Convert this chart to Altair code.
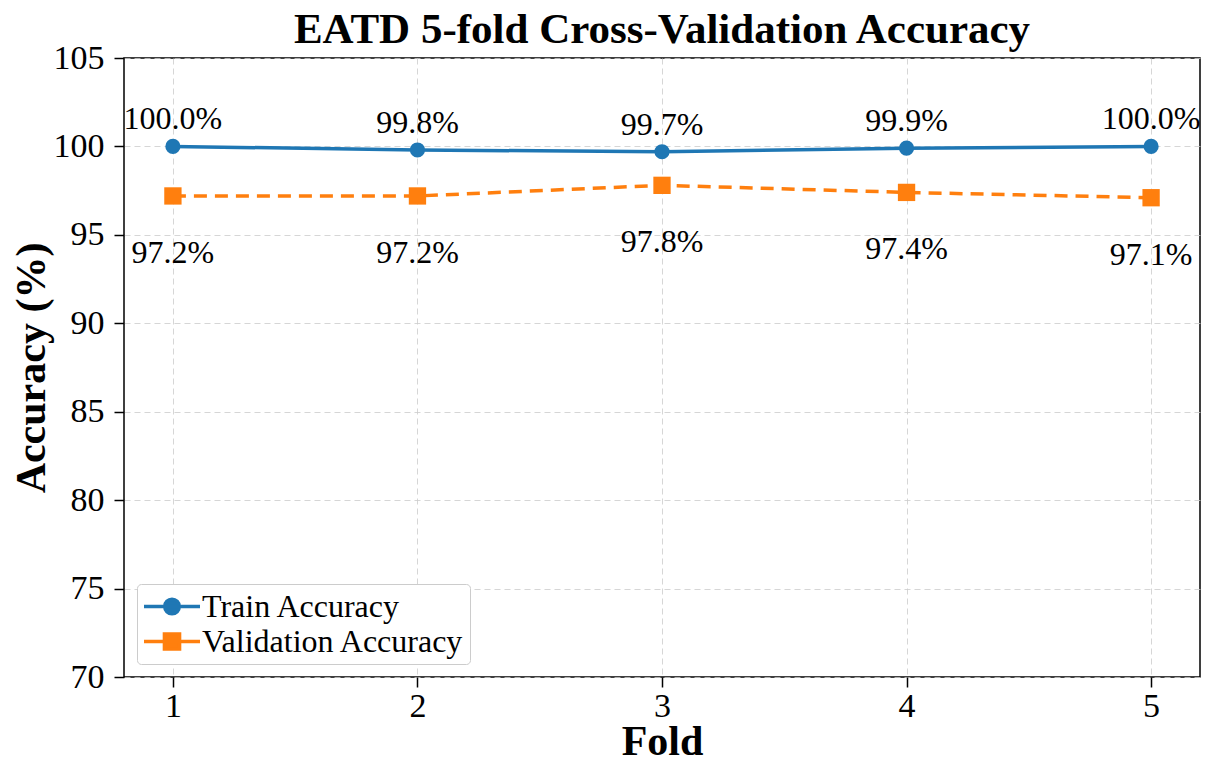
import altair as alt
import pandas as pd

folds = [1, 2, 3, 4, 5]
train_acc = [100.0, 99.8, 99.7, 99.9, 100.0]
val_acc = [97.2, 97.2, 97.8, 97.4, 97.1]
train_labels = ["100.0%", "99.8%", "99.7%", "99.9%", "100.0%"]
val_labels = ["97.2%", "97.2%", "97.8%", "97.4%", "97.1%"]
series_names = ["Train Accuracy", "Validation Accuracy"]
series_colors = ["#1f77b4", "#ff7f0e"]
y_ticks = [70, 75, 80, 85, 90, 95, 100, 105]

rows = []
for f, a, l in zip(folds, train_acc, train_labels):
    rows.append({"fold": f, "acc": a, "series": series_names[0], "label": l})
for f, a, l in zip(folds, val_acc, val_labels):
    rows.append({"fold": f, "acc": a, "series": series_names[1], "label": l})
df = pd.DataFrame(rows)

FONT = "Liberation Serif"

color_scale = alt.Scale(domain=series_names, range=series_colors)
x_enc = alt.X("fold:Q", scale=alt.Scale(domain=[0.8, 5.2], nice=False),
              axis=alt.Axis(values=folds, format="d", title="Fold"))
y_enc = alt.Y("acc:Q", scale=alt.Scale(domain=[70, 105], nice=False),
              axis=alt.Axis(values=y_ticks, title="Accuracy (%)"))

base = alt.Chart(df).encode(x=x_enc, y=y_enc)
is_train = alt.datum.series == series_names[0]
is_val = alt.datum.series == series_names[1]

train_line = base.mark_line(strokeWidth=3.5, color=series_colors[0]).transform_filter(is_train)
val_line = base.mark_line(strokeWidth=3.5, color=series_colors[1], strokeDash=[13, 8]).transform_filter(is_val)

train_pts = base.mark_point(filled=True, shape="circle", size=230, opacity=1,
                            color=series_colors[0]).transform_filter(is_train)
val_pts = base.mark_point(filled=True, shape="square", size=300, opacity=1,
                          color=series_colors[1]).transform_filter(is_val)

train_txt = base.mark_text(font=FONT, fontSize=32, baseline="alphabetic", dy=-17, color="black").encode(
    text="label:N"
).transform_filter(is_train)

val_txt = base.mark_text(font=FONT, fontSize=32, baseline="top", dy=42, color="black").encode(
    text="label:N"
).transform_filter(is_val)

circle_path = "M-1,0H1M0.26,0A0.26,0.26,0,1,1,-0.26,0A0.26,0.26,0,1,1,0.26,0Z"
square_path = "M-1,0H1M-0.27,-0.27H0.27V0.27H-0.27Z"

legend_layer = base.mark_point(filled=True, strokeWidth=3.5, opacity=1).encode(
    color=alt.Color("series:N", scale=color_scale, title=None,
                    legend=alt.Legend(orient="bottom-left", offset=13)),
    stroke=alt.Stroke("series:N", scale=color_scale),
    shape=alt.Shape("series:N", scale=alt.Scale(domain=series_names, range=[circle_path, square_path])),
).transform_filter("false")

chart = alt.layer(train_line, val_line, train_pts, val_pts, train_txt, val_txt, legend_layer).properties(
    width=1076,
    height=619,
    title=alt.Title("EATD 5-fold Cross-Validation Accuracy", font=FONT, fontSize=43,
                    fontWeight="bold", color="black", offset=-11, anchor="middle"),
    autosize=alt.AutoSizeParams(type="none"),
    padding={"left": 116, "top": 50, "right": 9, "bottom": 95},
).configure_view(
    stroke="black", strokeWidth=1.5
).configure_axis(
    labelFont=FONT, labelFontSize=34, labelColor="black",
    titleFont=FONT, titleFontSize=42, titleFontWeight="bold", titleColor="black",
    tickColor="black", tickSize=10, tickWidth=1.5, domain=False,
    grid=True, gridColor="#cccccc", gridDash=[6, 4], gridWidth=1, gridOpacity=0.8,
    labelPadding=10,
).configure_axisY(
    titlePadding=0,
).configure_axisX(
    titlePadding=-2, labelPadding=2,
).configure_legend(
    labelFont=FONT, labelFontSize=32, labelColor="black",
    symbolSize=3136, symbolStrokeWidth=3.5, clipHeight=35,
    strokeColor="#cccccc", fillColor="white", cornerRadius=4, padding=5,
    labelOffset=0, rowPadding=0, labelLimit=400,
)

chart.save("out.html", embed_options={"renderer": "svg", "actions": False})
